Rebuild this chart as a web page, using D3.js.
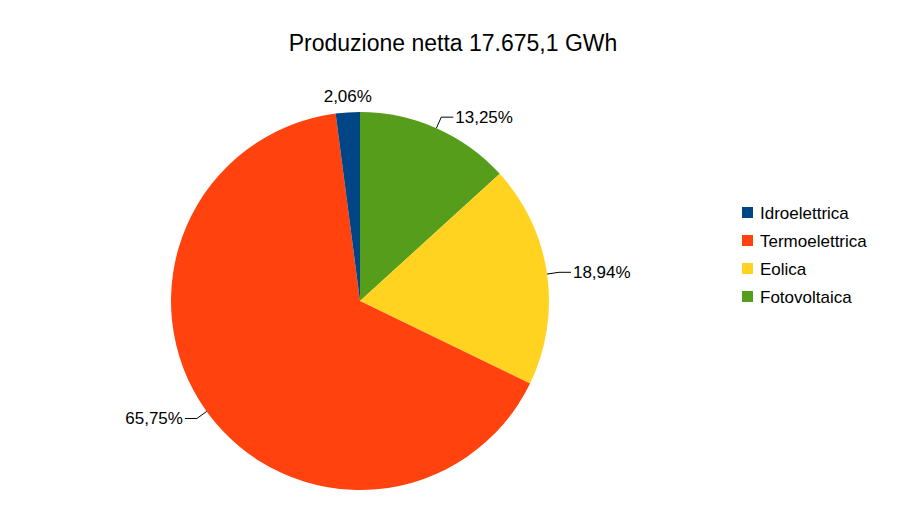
<!DOCTYPE html>
<html><head><meta charset="utf-8">
<script src="https://cdn.jsdelivr.net/npm/d3@7"></script>
<style>body{margin:0;background:#fff}text{font-family:"Liberation Sans",Arial,sans-serif}</style>
</head><body><div id="chart"></div>
<script>
const categories = ["Idroelettrica","Termoelettrica","Eolica","Fotovoltaica"]
const values = [2.06, 65.75, 18.94, 13.25]
const labels = ["2,06%","65,75%","18,94%","13,25%"]
const colors = ["#004586","#ff420e","#ffd320","#579d1c"]
// drawing order clockwise from 12 o'clock
const pieOrder = [3, 2, 1, 0]

const width = 907, height = 510, cx = 360, cy = 301, r = 189

const svg = d3.select("#chart").append("svg").attr("width", width).attr("height", height)

svg.append("text").attr("x", 453).attr("y", 51).attr("text-anchor", "middle")
   .attr("font-size", 23).text("Produzione netta 17.675,1 GWh")

const pie = d3.pie().sort(null).value(i => values[i])
const arcs = pie(pieOrder)
const arc = d3.arc().innerRadius(0).outerRadius(r)

const g = svg.append("g").attr("transform", `translate(${cx},${cy})`)
g.selectAll("path").data(arcs).join("path")
 .attr("d", arc).attr("fill", d => colors[d.data])

arcs.forEach(d => {
    const a = (d.startAngle + d.endAngle) / 2
    const ex = Math.sin(a) * r, ey = -Math.cos(a) * r
    const i = d.data
    if (values[i] < 5) {
        g.append("text").attr("x", ex).attr("y", ey - 10).attr("text-anchor", "middle")
         .attr("font-size", 17).text(labels[i])
        return
    }
    const right = Math.sin(a) > 0
    const kx = Math.sin(a) * (r + 12), ky = -Math.cos(a) * (r + 12)
    const lx = kx + (right ? 12 : -12)
    g.append("polyline").attr("fill", "none").attr("stroke", "#000").attr("stroke-width", 1)
     .attr("points", `${ex},${ey} ${kx},${ky} ${lx},${ky}`)
    g.append("text").attr("x", lx + (right ? 2 : -2)).attr("y", ky + 6)
     .attr("text-anchor", right ? "start" : "end").attr("font-size", 17).text(labels[i])
})

const legend = svg.append("g").attr("transform", "translate(742,213)")
categories.forEach((c, i) => {
    legend.append("rect").attr("x", 0).attr("y", i * 28 - 6).attr("width", 11).attr("height", 11)
          .attr("fill", colors[i])
    legend.append("text").attr("x", 18).attr("y", i * 28 + 6).attr("font-size", 17).text(c)
})
</script></body></html>
